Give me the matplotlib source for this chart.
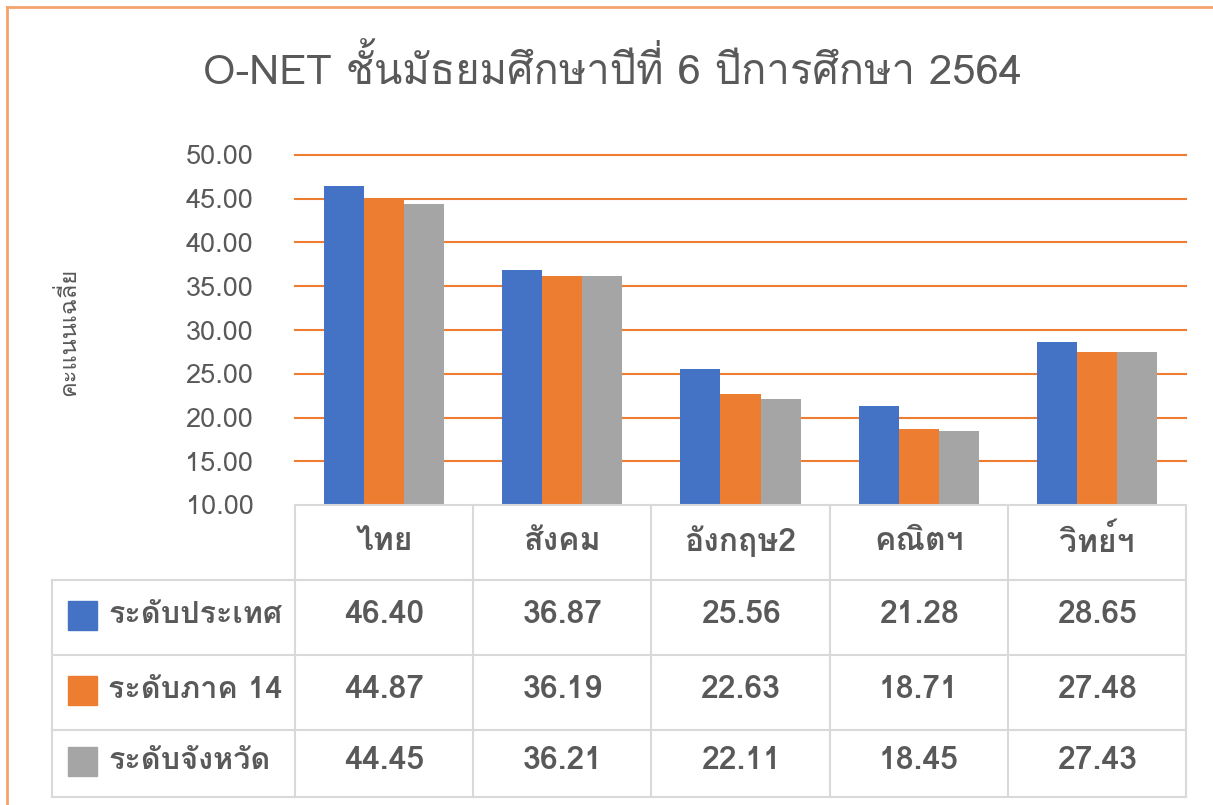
import matplotlib
matplotlib.use("Agg")
import matplotlib.pyplot as plt
from matplotlib import font_manager
from matplotlib.ft2font import FT2Font
from matplotlib.patches import Rectangle
from matplotlib.lines import Line2D
import numpy as np

categories = ["ไทย", "สังคม", "อังกฤษ2", "คณิตฯ", "วิทย์ฯ"]
series_names = ["ระดับประเทศ", "ระดับภาค 14", "ระดับจังหวัด"]
national = [46.40, 36.87, 25.56, 21.28, 28.65]
region14 = [44.87, 36.19, 22.63, 18.71, 27.48]
province = [44.45, 36.21, 22.11, 18.45, 27.43]
y_ticks = [10, 15, 20, 25, 30, 35, 40, 45, 50]
title_text = "O-NET ชั้นมัธยมศึกษาปีที่ 6 ปีการศึกษา 2564"
y_label = "คะแนนเฉลี่ย"

colors = ["#4472C4", "#ED7D31", "#A5A5A5"]
text_color = "#595959"
grid_color = "#ED7D31"
table_color = "#D9D9D9"


def find_thai_fonts():
    names = []
    for entry in font_manager.fontManager.ttflist:
        try:
            cmap = FT2Font(entry.fname).get_charmap()
        except Exception:
            continue
        if 0x0E01 in cmap and entry.name not in names:
            names.append(entry.name)
    return names


thai = find_thai_fonts()
plt.rcParams["font.family"] = thai + ["DejaVu Sans"]

W, H = 1213, 805
fig = plt.figure(figsize=(W / 100, H / 100), dpi=100)


def fx(px):
    return px / W


def fy(py):
    return 1 - py / H


ax = fig.add_axes([fx(295), fy(505), fx(1186) - fx(295), fy(155) - fy(505)])

x = np.arange(len(categories))
bw = 0.225
for i, vals in enumerate([national, region14, province]):
    ax.bar(x + (i - 1) * bw, np.array(vals) - 10, bottom=10, width=bw,
           color=colors[i], zorder=3)

ax.set_xlim(-0.5, len(categories) - 0.5)
ax.set_ylim(10, 50)
ax.set_yticks(y_ticks)
ax.set_yticklabels([f"{v:.2f}" for v in y_ticks], fontsize=19.5, color=text_color)
ax.tick_params(axis="y", length=0, pad=30)
ax.set_xticks([])
for v in y_ticks[1:]:
    ax.axhline(v, color=grid_color, lw=1.5, zorder=1, clip_on=False)
for s in ax.spines.values():
    s.set_visible(False)

fig.text(fx(612), fy(70), title_text, ha="center", va="center",
         fontsize=30, color=text_color)
fig.text(fx(68), fy(332), y_label, ha="center", va="center", rotation=90,
         fontsize=17, color=text_color)

# data table
rows_px = [505, 580, 655, 730, 797]
cols_px = [295 + k * 178.2 for k in range(6)]
left_px = 52
for k, yp in enumerate(rows_px):
    x0 = cols_px[0] if k == 0 else left_px
    fig.add_artist(Line2D([fx(x0), fx(cols_px[-1])], [fy(yp), fy(yp)],
                          color=table_color, lw=1.5))
for xp in cols_px:
    fig.add_artist(Line2D([fx(xp), fx(xp)], [fy(rows_px[0]), fy(rows_px[-1])],
                          color=table_color, lw=1.5))
fig.add_artist(Line2D([fx(left_px), fx(left_px)], [fy(rows_px[1]), fy(rows_px[-1])],
                      color=table_color, lw=1.5))

for j, cat in enumerate(categories):
    cx = (cols_px[j] + cols_px[j + 1]) / 2
    fig.text(fx(cx), fy(541), cat, ha="center", va="center", fontsize=23,
             color=text_color, fontweight="bold")

for i, vals in enumerate([national, region14, province]):
    cy = (rows_px[i + 1] + rows_px[i + 2]) / 2 - 3
    fig.add_artist(Rectangle((fx(68), fy(cy + 15)), fx(29), fy(0) - fy(29),
                             color=colors[i]))
    fig.text(fx(108), fy(cy), series_names[i], ha="left", va="center",
             fontsize=22, color=text_color, fontweight="bold")
    for j, v in enumerate(vals):
        cx = (cols_px[j] + cols_px[j + 1]) / 2
        fig.text(fx(cx), fy(cy), f"{v:.2f}", ha="center", va="center",
                 fontsize=23, color=text_color, fontweight="bold")

# chart border
fig.add_artist(Line2D([fx(7), fx(W)], [fy(7), fy(7)], color="#F4A46C", lw=2))
fig.add_artist(Line2D([fx(7), fx(7)], [fy(7), fy(H)], color="#F4A46C", lw=2))

fig.savefig("out.png", dpi=100)
